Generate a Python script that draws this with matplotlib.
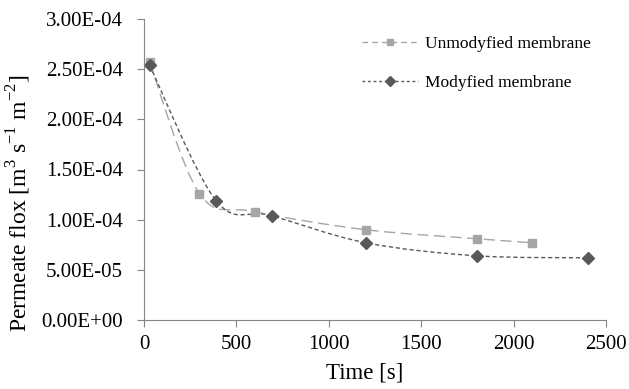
import matplotlib
matplotlib.use("Agg")
import matplotlib.pyplot as plt
from matplotlib.path import Path
from matplotlib.patches import PathPatch
from matplotlib.ticker import FuncFormatter
import numpy as np

plt.rcParams['font.family'] = ['Liberation Serif', 'DejaVu Serif']
plt.rcParams['mathtext.fontset'] = 'custom'
plt.rcParams['mathtext.rm'] = 'Liberation Serif'

# data
time_unmod = [30, 300, 600, 1200, 1800, 2100]
flux_unmod = [2.57e-4, 1.26e-4, 1.08e-4, 0.90e-4, 0.81e-4, 0.77e-4]
time_mod = [30, 390, 690, 1200, 1800, 2400]
flux_mod = [2.54e-4, 1.19e-4, 1.04e-4, 0.77e-4, 0.64e-4, 0.62e-4]

X_MAX, Y_MAX = 2500, 3e-4


def smooth_path(xs, ys, tension=1 / 6):
    # Excel-like smoothed line: Catmull-Rom turned into cubic Bezier segments,
    # tangents worked out in (roughly) pixel units of the axes
    xs = np.asarray(xs, float)
    ys = np.asarray(ys, float)
    sx, sy = X_MAX / 462, Y_MAX / 301
    px, py = xs / sx, ys / sy
    verts = [(xs[0], ys[0])]
    codes = [Path.MOVETO]
    n = len(xs)
    for i in range(n - 1):
        p0 = max(i - 1, 0)
        p3 = min(i + 2, n - 1)
        c1x = px[i] + (px[i + 1] - px[p0]) * tension
        c1y = py[i] + (py[i + 1] - py[p0]) * tension
        c2x = px[i + 1] - (px[p3] - px[i]) * tension
        c2y = py[i + 1] - (py[p3] - py[i]) * tension
        verts += [(c1x * sx, c1y * sy), (c2x * sx, c2y * sy), (xs[i + 1], ys[i + 1])]
        codes += [Path.CURVE4] * 3
    return Path(verts, codes)


fig = plt.figure(figsize=(6.29, 3.89), dpi=100)
ax = fig.add_axes([144 / 629, 69 / 389, 462 / 629, 301 / 389])

c_unmod = '#a6a6a6'
c_mod = '#595959'

ax.add_patch(PathPatch(smooth_path(time_unmod, flux_unmod), fill=False,
                       edgecolor=c_unmod, lw=1.0, linestyle=(0, (8, 4))))
ax.add_patch(PathPatch(smooth_path(time_mod, flux_mod), fill=False,
                       edgecolor=c_mod, lw=1.0, linestyle=(0, (3, 2))))

ax.plot(time_unmod, flux_unmod, linestyle='none', color=c_unmod,
        marker='s', markersize=6)
ax.plot(time_mod, flux_mod, linestyle='none', color=c_mod,
        marker='D', markersize=6)

# legend handles with visible dashed lines
h1, = ax.plot([], [], linestyle=(0, (4, 3)), color=c_unmod, lw=1.0, marker='s', markersize=5)
h2, = ax.plot([], [], linestyle=(0, (2, 2)), color=c_mod, lw=1.0, marker='D', markersize=5)
ax.legend([h1, h2], ['Unmodyfied membrane', 'Modyfied membrane'], frameon=False,
          loc='upper left', bbox_to_anchor=(0.472, 0.945), borderpad=0,
          borderaxespad=0, fontsize=12.5,
          handlelength=3.2, handletextpad=0.45, labelspacing=1.35)

ax.set_xlim(0, X_MAX)
ax.set_ylim(0, Y_MAX)
ax.set_xticks(np.arange(0, 2501, 500))
ax.set_yticks(np.arange(0, 3.01e-4, 0.5e-4))


def sci(v, pos):
    return f"{v:.2E}"


ax.yaxis.set_major_formatter(FuncFormatter(sci))

for side in ['top', 'right']:
    ax.spines[side].set_visible(False)
for side in ['left', 'bottom']:
    ax.spines[side].set_color('#868686')
ax.tick_params(axis='both', colors='#868686', labelcolor='black', labelsize=15,
               direction='out', length=5)
ax.tick_params(axis='y', pad=10)
ax.tick_params(axis='x', pad=6)

ax.set_xlabel('Time [s]', fontsize=16.5)
ax.xaxis.set_label_coords(0.478, -0.14)
ax.set_ylabel(r'Permeate flox [m$^3$ s$^{-1}$ m$^{-2}$]', fontsize=17)
ax.yaxis.set_label_coords(-0.24, 0.39)

fig.savefig('out.png', dpi=100)
